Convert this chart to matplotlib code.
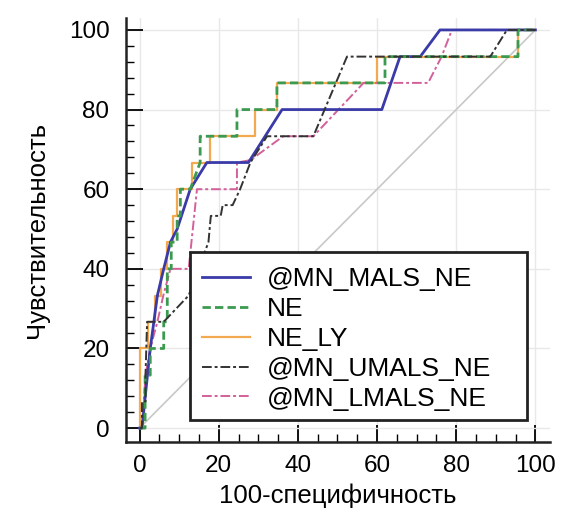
import numpy as np
import matplotlib.pyplot as plt
from matplotlib.patches import Rectangle
from matplotlib.ticker import MultipleLocator

plt.rcParams['font.family'] = ['Liberation Sans', 'DejaVu Sans']

# ROC-кривые (100-специфичность, чувствительность)
mals_x = [0, 0.6, 2.7, 4.5, 6.1, 7.8, 9.5, 12.8, 17, 27.5, 36, 61.2, 65.8, 70.9, 75.9, 100]
mals_y = [0, 0, 20, 33.3, 40, 46.7, 50, 60, 66.7, 66.7, 80, 80, 93.3, 93.3, 100, 100]

ne_x = [0, 1.4, 1.4, 2.7, 2.7, 6.1, 6.1, 7, 7, 8, 8, 9.5, 9.5, 10.3, 10.3, 12.8, 15.3, 15.3,
        24.6, 24.6, 34.7, 34.7, 62, 62, 95.6, 95.6, 100]
ne_y = [0, 0, 13.3, 13.3, 20, 20, 26.7, 26.7, 40, 40, 46.7, 46.7, 53.3, 53.3, 60, 60, 66.7, 73.3,
        73.3, 80, 80, 86.7, 86.7, 93.3, 93.3, 100, 100]

ly_x = [0, 0, 2.2, 2.2, 4, 4, 5.5, 5.5, 6.9, 6.9, 8.5, 8.5, 9.4, 9.4, 13.2, 13.2, 17.9, 17.9,
        29.2, 29.2, 34.7, 34.7, 60, 60, 95.6, 95.6, 100]
ly_y = [0, 20, 20, 26.7, 26.7, 33.3, 33.3, 40, 40, 46.7, 46.7, 53.3, 53.3, 60, 60, 66.7, 66.7, 73.3,
        73.3, 80, 80, 86.7, 86.7, 93.3, 93.3, 100, 100]

umals_x = [0, 0.6, 0.6, 1.5, 1.5, 1.9, 6.1, 12.4, 17.4, 18, 20.5, 21, 23.5, 25.4, 28, 32.2,
           43.9, 52.4, 88.6, 92.8, 100]
umals_y = [0, 0, 6.7, 6.7, 13.3, 26.7, 26.7, 33.3, 46.7, 53.3, 53.3, 56, 56, 60, 66.7, 73.3,
           73.3, 93.3, 93.3, 100, 100]

lmals_x = [0, 0.6, 1.5, 2.7, 4.5, 6, 7.8, 12.4, 14.5, 24.6, 24.6, 28, 36.3, 43.9, 56.6, 72.9, 76.3, 78.9, 100]
lmals_y = [0, 0, 13.3, 20, 26.7, 33.3, 40, 40, 60, 60, 66.7, 67.3, 73.3, 73.3, 86.7, 86.7, 93.3, 100, 100]

fig = plt.figure(figsize=(5.63, 5.14), dpi=100)
ax = fig.add_axes([0.224, 0.140, 0.753, 0.825])

ax.plot([0, 100], [0, 100], color='#c8c8c8', linewidth=1.2, zorder=1)
ax.plot(mals_x, mals_y, color='#3a3aa8', linewidth=2, label='@MN_MALS_NE', zorder=3)
ax.plot(ne_x, ne_y, color='#3c9a50', linewidth=2, linestyle=(0, (3, 1.5)), label='NE', zorder=3)
ax.plot(ly_x, ly_y, color='#f2a950', linewidth=1.6, label='NE_LY', zorder=2)
ax.plot(umals_x, umals_y, color='#333333', linewidth=1.4, linestyle=(0, (5, 1.5, 1.5, 1.5)),
        label='@MN_UMALS_NE', zorder=3)
ax.plot(lmals_x, lmals_y, color='#d2609a', linewidth=1.4, linestyle=(0, (5, 1.5, 1.5, 1.5)),
        label='@MN_LMALS_NE', zorder=2)

ax.set_xlim(-3.4, 103.7)
ax.set_ylim(-3.5, 103)
ax.xaxis.set_major_locator(MultipleLocator(20))
ax.xaxis.set_minor_locator(MultipleLocator(5))
ax.yaxis.set_major_locator(MultipleLocator(20))
ax.yaxis.set_minor_locator(MultipleLocator(4))
ax.tick_params(which='major', direction='in', length=12, width=1.3, labelsize=17.5)
ax.tick_params(axis='y', which='major', pad=12)
ax.tick_params(axis='x', which='major', pad=9)
ax.tick_params(which='minor', direction='in', length=6, width=1)
ax.grid(True, which='major', color='#e8e8e8', linewidth=1)
ax.set_axisbelow(True)
for s in ['top', 'right']:
    ax.spines[s].set_visible(False)
for s in ['left', 'bottom']:
    ax.spines[s].set_linewidth(1.8)
    ax.spines[s].set_color('#222222')

ax.set_xlabel('100-специфичность', fontsize=18.5, labelpad=5)
ax.set_ylabel('Чувствительность', fontsize=18.5, labelpad=14)

# рамка легенды рисуется отдельно
box = Rectangle((0.151, 0.052), 0.795, 0.396, transform=ax.transAxes, facecolor='white',
                edgecolor='#222222', linewidth=2, zorder=4)
ax.add_patch(box)
leg = ax.legend(loc='upper left', bbox_to_anchor=(0.179, 0.412), fontsize=19, frameon=False,
                handlelength=1.82, labelspacing=0.22, borderpad=0, handletextpad=0.64,
                borderaxespad=0)
leg.set_zorder(5)

fig.savefig('out.png', dpi=100)
